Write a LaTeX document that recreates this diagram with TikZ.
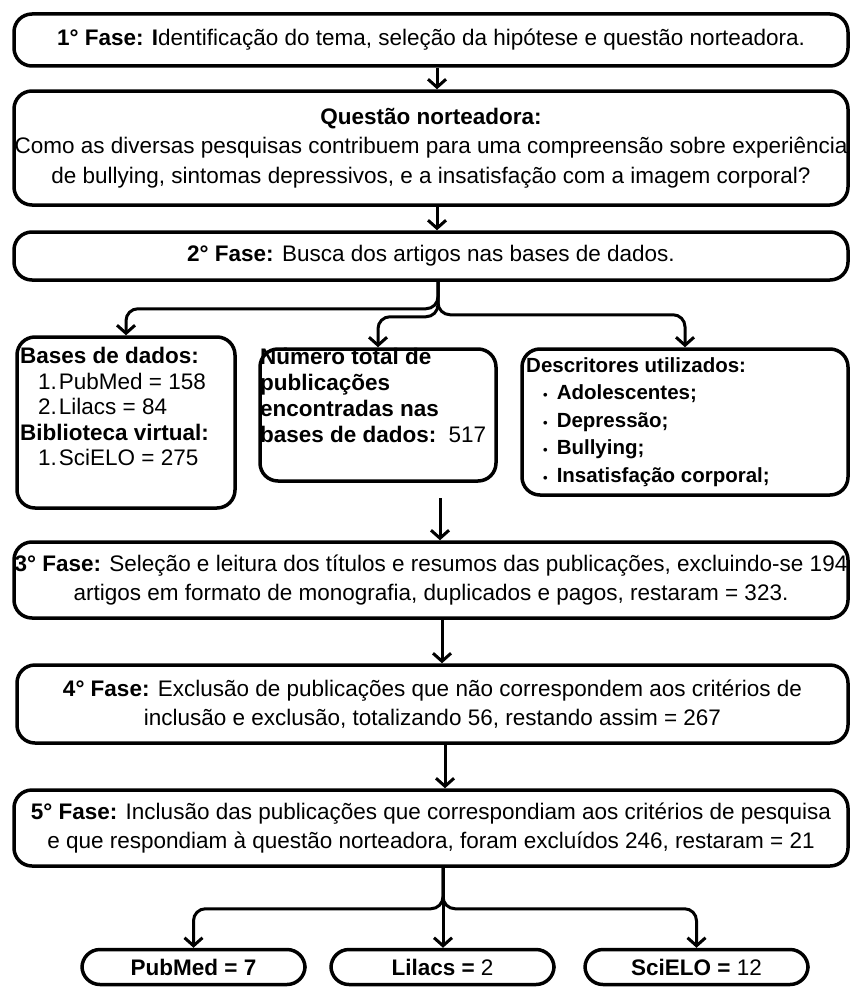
\documentclass[tikz,border=0pt]{standalone}
\usepackage{fontspec}
\setmainfont{Liberation Sans}
\usetikzlibrary{arrows.meta, calc}

\begin{document}
\begin{tikzpicture}[x=1pt, y=-1pt,
  fase/.style={draw, line width=3.5pt, rounded corners=18pt, align=center, inner sep=0pt, minimum width=834pt, font=\fontsize{22.5}{28.5}\selectfont},
  caixa/.style={draw, line width=3.5pt, rounded corners=18pt, inner sep=0pt},
  texto/.style={anchor=north west, align=left, inner sep=0pt},
  final/.style={draw, line width=3.5pt, rounded corners=18pt, minimum width=223pt, minimum height=35pt, inner sep=0pt, font=\fontsize{22.5}{27}\selectfont},
  seta/.style={line width=3pt, rounded corners=12pt, -{Straight Barb[length=8pt, width=18pt]}}]
\useasboundingbox (0,0) rectangle (859,990);

\node[fase, minimum height=52pt] (f1) at (431,40) {\textbf{1° Fase: I}dentificação do tema, seleção da hipótese e questão norteadora.};
\node[fase, minimum height=114pt, font=\fontsize{22.5}{29.5}\selectfont] (q) at (431,148) {\textbf{Questão norteadora:}\\Como as diversas pesquisas contribuem para uma compreensão sobre experiência\\de bullying, sintomas depressivos, e a insatisfação com a imagem corporal?};
\node[fase, minimum height=48pt] (f2) at (431,256) {\textbf{2° Fase:} Busca dos artigos nas bases de dados.};

\node[caixa, minimum width=218pt, minimum height=171pt] (bases) at (126,422.5) {};
\node[caixa, minimum width=236pt, minimum height=132pt] (num) at (378,415) {};
\node[caixa, minimum width=326pt, minimum height=146pt] (desc) at (685,422) {};
\node[texto, font=\fontsize{22.5}{25.5}\selectfont] (basestxt) at (20,347) {\textbf{Bases de dados:}\\\hspace*{18pt}1.\kern2pt PubMed = 158\\\hspace*{18pt}2.\kern2pt Lilacs = 84\\\textbf{Biblioteca virtual:}\\\hspace*{18pt}1.\kern2pt SciELO = 275};
\node[texto, font=\fontsize{22.5}{26}\selectfont\bfseries] (numtxt) at (260,348) {Número total de\\publicações\\encontradas nas\\bases de dados: \textmd{\,517}};
\node[texto, font=\fontsize{20.5}{27.5}\selectfont\bfseries] (desctxt) at (526,357) {Descritores utilizados:\\\hspace*{17pt}{\fontsize{13}{13}\selectfont•}\kern9pt Adolescentes;\\\hspace*{17pt}{\fontsize{13}{13}\selectfont•}\kern9pt Depressão;\\\hspace*{17pt}{\fontsize{13}{13}\selectfont•}\kern9pt Bullying;\\\hspace*{17pt}{\fontsize{13}{13}\selectfont•}\kern9pt Insatisfação corporal;};

\node[fase, minimum height=76pt] (f3) at (431,580) {\textbf{3° Fase:} Seleção e leitura dos títulos e resumos das publicações, excluindo-se 194\\artigos em formato de monografia, duplicados e pagos, restaram = 323.};
\node[fase, minimum height=78pt, minimum width=831pt] (f4) at (432.5,704) {\textbf{4° Fase:} Exclusão de publicações que não correspondem aos critérios de\\inclusão e exclusão, totalizando 56, restando assim = 267};
\node[fase, minimum height=76pt] (f5) at (431,828) {\textbf{5° Fase:} Inclusão das publicações que correspondiam aos critérios de pesquisa\\e que respondiam à questão norteadora, foram excluídos 246, restaram = 21};

\node[final] (pub) at (193.5,967) {\textbf{PubMed = 7}};
\node[final] (lil) at (442.5,967) {\textbf{Lilacs =} 2};
\node[final] (sci) at (696.5,967) {\textbf{SciELO =} 12};

\draw[seta] ([xshift=6pt]f1.south) -- ([xshift=6pt]q.north);
\draw[seta] ([xshift=6pt]q.south) -- ([xshift=6pt]f2.north);
\coordinate (r2) at ([xshift=7pt]f2.south);
\draw[seta] (r2) -- ++(0,27) -| (bases.north);
\draw[seta] (r2) -- ++(0,35) -| (num.north);
\draw[seta] (r2) -- ++(0,33) -| (desc.north);
\coordinate (c3) at (440,498);
\draw[seta] (c3) -- (c3 |- f3.north);
\draw[seta] ([xshift=11pt]f3.south) -- ([xshift=11pt]f3.south |- f4.north);
\draw[seta] ([xshift=12.5pt]f4.south) -- ([xshift=12.5pt]f4.south |- f5.north);
\coordinate (r5) at ([xshift=12pt]f5.south);
\draw[seta] (r5) -- ++(0,41) -| (pub.north);
\draw[seta] (r5) -- (r5 |- lil.north);
\draw[seta] (r5) -- ++(0,41) -| (sci.north);
\end{tikzpicture}
\end{document}
